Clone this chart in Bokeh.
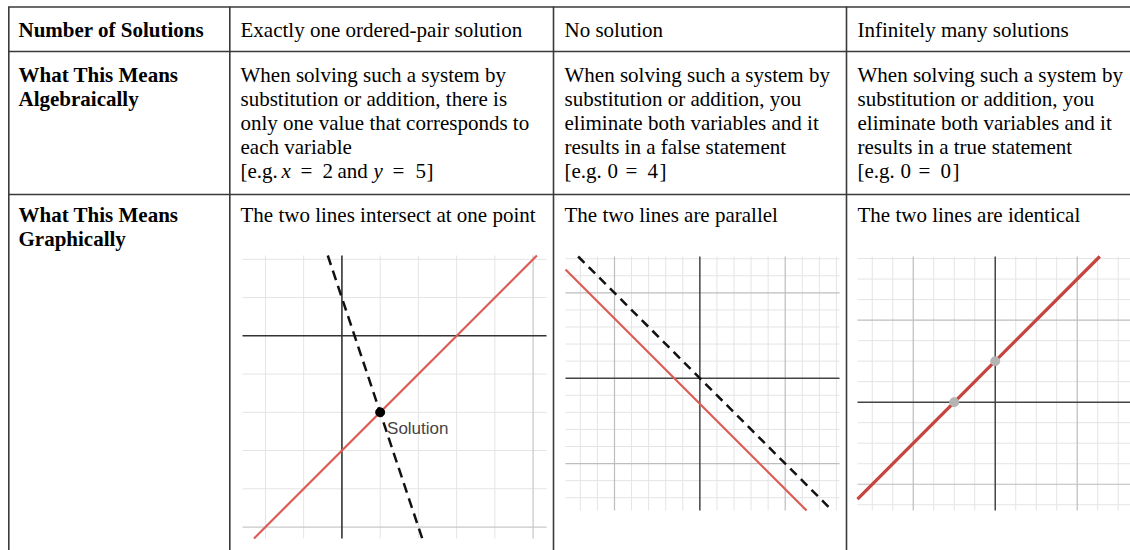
from bokeh.plotting import figure
from bokeh.models import Range1d
from bokeh.core.properties import value
from bokeh.embed import file_html
from bokeh.resources import INLINE

# ---------------- data ----------------
header = ["Number of Solutions", "Exactly one ordered-pair solution",
          "No solution", "Infinitely many solutions"]
row_labels = [["What This Means", "Algebraically"],
              ["What This Means", "Graphically"]]
alg_text = [
    ["When solving such a system by", "substitution or addition, there is",
     "only one value that corresponds to", "each variable"],
    ["When solving such a system by", "substitution or addition, you",
     "eliminate both variables and it", "results in a false statement"],
    ["When solving such a system by", "substitution or addition, you",
     "eliminate both variables and it", "results in a true statement"],
]
# example equations as tokens (text, italic?)
eq_tokens = [
    [("[e.g.", False), ("x", True), ("=", False), ("2", False), ("and", False),
     ("y", True), ("=", False), ("5", False), ("]", False)],
    [("[e.g.", False), ("0", False), ("=", False), ("4", False), ("]", False)],
    [("[e.g.", False), ("0", False), ("=", False), ("0", False), ("]", False)],
]
graph_text = ["The two lines intersect at one point", "The two lines are parallel",
              "The two lines are identical"]

# graph 1: one solution
g1_xticks = [-2, -1, 0, 1, 2, 3, 4, 5]
g1_yticks = [-5, -4, -3, -2, -1, 0, 1, 2]
g1_red_x = [-2.3, 5.1]
g1_red_y = [-5.3, 2.1]
g1_dash_x = [-0.37, 2.1]
g1_dash_y = [2.1, -5.3]
g1_sol = (1, -2)

# graph 2: parallel
g2_xticks = list(range(-7, 9))
g2_yticks = list(range(-7, 8))
g2_dash_x = [-7.13, 7.65]
g2_dash_y = [7.13, -7.65]
g2_red_x = [-7.87, 6.25]
g2_red_y = [6.37, -7.75]

# graph 3: identical
g3_xticks = list(range(-6, 7))
g3_yticks = list(range(-5, 8))
g3_red_x = [-6.72, 5.1]
g3_red_y = [-4.72, 7.1]
g3_pts_x = [-2, 0]
g3_pts_y = [0, 2]

# ---------------- figure ----------------
W, H = 1130, 550
X0, Y0 = 0, 0
p = figure(width=W, height=H, x_range=Range1d(X0, X0 + W), y_range=Range1d(Y0 + H, Y0),
           output_backend="svg", toolbar_location=None,
           x_axis_location=None, y_axis_location=None,
           min_border=0, outline_line_color=None)
p.grid.visible = False
p.background_fill_color = "white"

SERIF = value("Liberation Serif")
FS = value("21px")
TY = -8  # baseline correction for rendered text

# table layout (pixels)
col_x = [8.3, 229.3, 553, 846]
text_x = [18, 240, 564, 857]
row_y = [6.5, 51, 194]
line_h = 24

# borders
p.segment(x0=[8] * 3, y0=row_y, x1=[X0 + W] * 3, y1=row_y, line_color="#3a3a3a", line_width=1.6)
p.segment(x0=col_x, y0=[6] * 4, x1=col_x, y1=[Y0 + H] * 4, line_color="#3a3a3a", line_width=1.6)

# header
p.text(x=[text_x[0]], y=[37.3 + TY], text=[header[0]], text_font=SERIF, text_font_size=FS,
       text_font_style="bold", text_baseline="alphabetic", text_color="black")
p.text(x=text_x[1:], y=[37.3 + TY] * 3, text=header[1:], text_font=SERIF, text_font_size=FS,
       text_baseline="alphabetic", text_color="black")

# row labels
lbl_x, lbl_y, lbl_t = [], [], []
for base, lines in zip([82.3, 222.7], row_labels):
    for i, t in enumerate(lines):
        lbl_x.append(text_x[0]); lbl_y.append(base + i * line_h + TY); lbl_t.append(t)
p.text(x=lbl_x, y=lbl_y, text=lbl_t, text_font=SERIF, text_font_size=FS,
       text_font_style="bold", text_baseline="alphabetic", text_color="black")

# algebraic descriptions
ax_, ay_, at_ = [], [], []
for c, lines in enumerate(alg_text):
    for i, t in enumerate(lines):
        ax_.append(text_x[c + 1]); ay_.append(82.3 + i * line_h + TY); at_.append(t)
p.text(x=ax_, y=ay_, text=at_, text_font=SERIF, text_font_size=FS,
       text_baseline="alphabetic", text_color="black")

# equations
eq_offsets = [[0, 41, 60, 82, 97, 133, 152, 175, 186],
              [0, 43, 61, 83, 95],
              [0, 43, 61, 83, 95]]
eq_y = 82.3 + 4 * line_h + TY
for c, toks in enumerate(eq_tokens):
    for (t, it), off in zip(toks, eq_offsets[c]):
        p.text(x=[text_x[c + 1] + off], y=[eq_y], text=[t], text_font=SERIF, text_font_size=FS,
               text_font_style="italic" if it else "normal",
               text_baseline="alphabetic", text_color="black")

# graphical descriptions
p.text(x=text_x[1:], y=[222.7 + TY] * 3, text=graph_text, text_font=SERIF, text_font_size=FS,
       text_baseline="alphabetic", text_color="black")


# ---------------- graphs ----------------
def add_ranges(name, box, dlim):
    bx0, bx1, by0, by1 = box
    dx0, dx1, dy0, dy1 = dlim
    sx = (dx1 - dx0) / (bx1 - bx0)
    sy = (dy1 - dy0) / (by1 - by0)
    p.extra_x_ranges[name + "x"] = Range1d(dx0 - (bx0 - X0) * sx, dx1 + (X0 + W - bx1) * sx)
    p.extra_y_ranges[name + "y"] = Range1d(dy0 - (Y0 + H - by1) * sy, dy1 + (by0 - Y0) * sy)
    return dict(x_range_name=name + "x", y_range_name=name + "y"), sy


def draw_grid(rn, dlim, xticks, yticks, major, minor_col, major_col, axis_col, axis_w):
    dx0, dx1, dy0, dy1 = dlim
    for kind, col, w in [("minor", minor_col, 1), ("major", major_col, 1.2)]:
        xs = [t for t in xticks if t != 0 and ((t % major == 0) == (kind == "major"))]
        ys = [t for t in yticks if t != 0 and ((t % major == 0) == (kind == "major"))]
        if xs:
            p.segment(x0=xs, y0=[dy0] * len(xs), x1=xs, y1=[dy1] * len(xs),
                      line_color=col, line_width=w, **rn)
        if ys:
            p.segment(x0=[dx0] * len(ys), y0=ys, x1=[dx1] * len(ys), y1=ys,
                      line_color=col, line_width=w, **rn)
    p.segment(x0=[0, dx0], y0=[dy0, 0], x1=[0, dx1], y1=[dy1, 0],
              line_color=axis_col, line_width=axis_w, **rn)


RED = "#dc5a54"

# graph 1
g1_lim = (-2.6, 5.35, -5.3, 2.1)
r1, s1 = add_ranges("g1", (242, 546, 255, 538), g1_lim)
draw_grid(r1, g1_lim, g1_xticks, g1_yticks, 5, "#e4e4e4", "#c8c8c8", "#333333", 1.6)
p.line(g1_red_x, g1_red_y, line_color=RED, line_width=2.2, **r1)
p.line(g1_dash_x, g1_dash_y, line_color="#111111", line_width=2.5, line_dash="10 6", **r1)
p.scatter([g1_sol[0]], [g1_sol[1]], size=9, color="black", **r1)
p.text(x=[g1_sol[0] + 0.18], y=[g1_sol[1] - 0.62 - TY * s1], text=["Solution"],
       text_font=value("Liberation Sans"), text_font_size=value("17px"),
       text_baseline="alphabetic", text_color="#444444", **r1)

# graph 2
g2_lim = (-7.87, 8.18, -7.75, 7.13)
r2, s2 = add_ranges("g2", (565, 839, 256, 510), g2_lim)
draw_grid(r2, g2_lim, g2_xticks, g2_yticks, 5, "#e4e4e4", "#bdbdbd", "#444444", 1.5)
p.line(g2_red_x, g2_red_y, line_color=RED, line_width=2.2, **r2)
p.line(g2_dash_x, g2_dash_y, line_color="#111111", line_width=2.5, line_dash="9 6", **r2)

# graph 3
g3_lim = (-6.72, 6.6, -5.28, 7.1)
r3, s3 = add_ranges("g3", (857, 1130, 256, 510), g3_lim)
draw_grid(r3, g3_lim, g3_xticks, g3_yticks, 4, "#e4e4e4", "#bdbdbd", "#444444", 1.5)
p.line(g3_red_x, g3_red_y, line_color="#c74440", line_width=3.2, **r3)
p.line(g3_red_x, g3_red_y, line_color="#c74440", line_width=2.2, alpha=0.6, **r3)
p.scatter(g3_pts_x, g3_pts_y, size=9, color="#b4b4b4", **r3)

open("out.html", "w").write(file_html(p, INLINE))
